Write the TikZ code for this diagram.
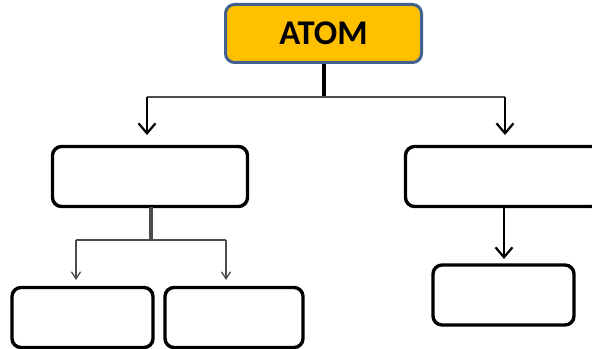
\documentclass[tikz,border=0pt]{standalone}
\usepackage{fontspec}
\setmainfont{Carlito}
\usetikzlibrary{arrows.meta}
\newlength{\du}
\setlength{\du}{0.75pt}
\definecolor{atomfill}{rgb}{1.000000, 0.752941, 0.000000}
\definecolor{atomline}{rgb}{0.254902, 0.384314, 0.560784}
\definecolor{stemgray}{rgb}{0.300000, 0.300000, 0.300000}
\tikzset{
  emptybox/.style={draw=black, line width=3.4\du, rounded corners=9\du, fill=white, inner sep=0pt},
  topbox/.style={draw=atomline, line width=3\du, rounded corners=9\du, fill=atomfill, inner sep=0pt,
    font=\fontsize{26}{26}\selectfont\bfseries},
  bigarrow/.style={-{Straight Barb[length=7.5pt, width=12.75pt, line width=1.65pt]}, line width=1.65pt},
  smallarrow/.style={-{Straight Barb[length=5.25pt, width=6.75pt, line width=0.975pt]}, line width=0.975pt, draw=stemgray},
}
\begin{document}
\begin{tikzpicture}
\useasboundingbox (0\du,0\du) rectangle (592\du,-349\du);
% top box
\node[topbox, minimum width=196\du, minimum height=58\du] (atom) at (323.5\du,-33.5\du) {ATOM};
% middle row
\node[emptybox, minimum width=195\du, minimum height=60\du] (left) at (150\du,-176.5\du) {};
\node[emptybox, minimum width=195\du, minimum height=60\du] (right) at (503\du,-176.5\du) {};
% bottom row
\node[emptybox, minimum width=141\du, minimum height=60\du] (leftA) at (82.5\du,-317.5\du) {};
\node[emptybox, minimum width=138\du, minimum height=60\du] (leftB) at (234\du,-317.5\du) {};
\node[emptybox, minimum width=141\du, minimum height=60\du] (rightA) at (503.5\du,-295\du) {};
% branch points and arrow ends
\coordinate (topfork) at (atom.south |- 0,-97\du);
\coordinate (topL) at (147\du,-97\du);
\coordinate (topR) at (505\du,-97\du);
\coordinate (tipL) at (147\du,-135\du);
\coordinate (tipR) at (505\du,-135\du);
\coordinate (leftfork) at (151\du,-240\du);
\coordinate (leftstem) at (151\du,-207\du);
\coordinate (forkA) at (76\du,-240\du);
\coordinate (forkB) at (226\du,-240\du);
\coordinate (tipA) at (76\du,-280\du);
\coordinate (tipB) at (226\du,-280\du);
\coordinate (rightstem) at (504\du,-207\du);
\coordinate (tipRA) at (504\du,-259\du);
% was here!!!
\draw[line width=4\du] (atom.south) -- (topfork);
\draw[line width=1.6\du, draw=stemgray] (topL) -- (topR);
\draw[bigarrow] (topL) -- (tipL);
\draw[bigarrow] (topR) -- (tipR);
\draw[line width=3.5\du, draw=stemgray] (leftstem) -- (leftfork);
\draw[line width=1.3\du, draw=stemgray] (forkA) -- (forkB);
\draw[smallarrow] (forkA) -- (tipA);
\draw[smallarrow] (forkB) -- (tipB);
\draw[bigarrow] (rightstem) -- (tipRA);
\end{tikzpicture}
\end{document}
